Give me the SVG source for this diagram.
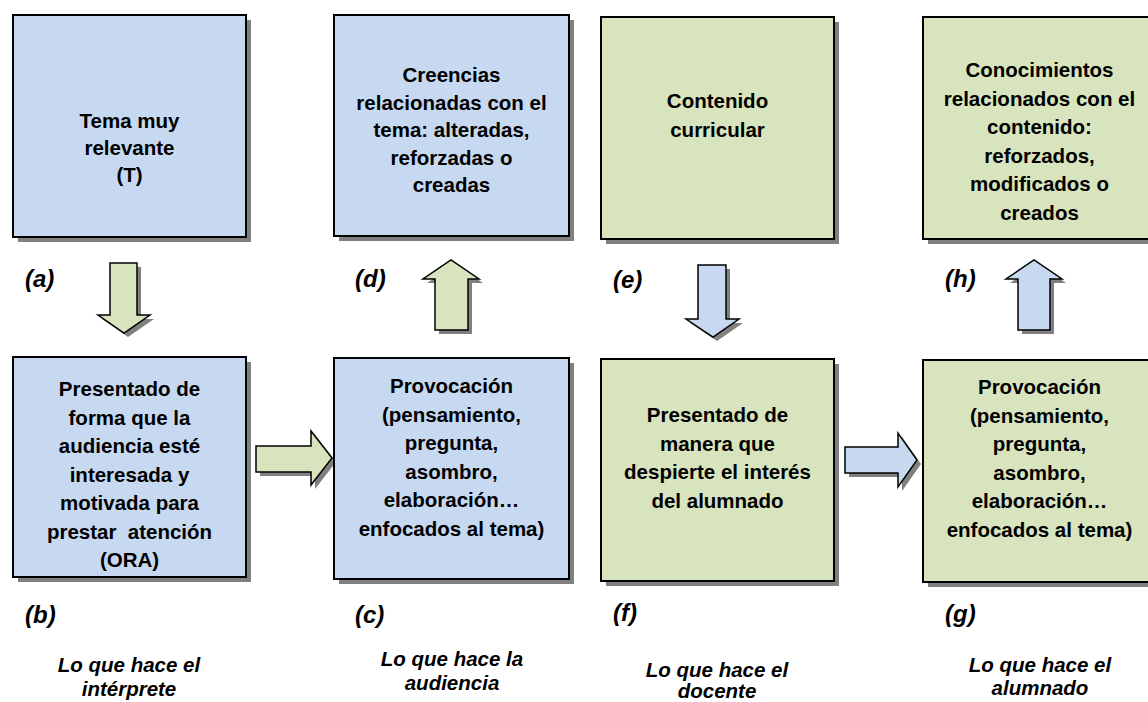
<svg xmlns="http://www.w3.org/2000/svg" width="1148" height="702" viewBox="0 0 1148 702">
<style>
.bg{fill:#ffffff}
.sh{fill:#808080;stroke:none}
.blue{fill:#C6D9F1;stroke:#000;stroke-width:2}
.green{fill:#D7E4BD;stroke:#000;stroke-width:2}
.ablue{fill:#C6D9F1;stroke:#000;stroke-width:1.5;stroke-linejoin:miter}
.agreen{fill:#D7E4BD;stroke:#000;stroke-width:1.5;stroke-linejoin:miter}
.t{font-family:"Liberation Sans",Arial,sans-serif;font-weight:bold;font-size:20.5px;text-anchor:middle;fill:#000}
.lbl{font-family:"Liberation Sans",Arial,sans-serif;font-weight:bold;font-style:italic;font-size:24px;fill:#000}
.cap{font-family:"Liberation Sans",Arial,sans-serif;font-weight:bold;font-style:italic;font-size:20.5px;text-anchor:middle;fill:#000}
</style>
<rect class="bg" x="0" y="0" width="1148" height="702"/>

<g id="connectors">
  <!-- a -> b down arrow (green) -->
  <path class="sh" transform="translate(4,4)" d="M110,263 H137 V315 H150 L124,333 L98,315 H110 Z"/>
  <path class="agreen" d="M110,263 H137 V315 H150 L124,333 L98,315 H110 Z"/>
  <!-- b -> c right arrow (green) -->
  <path class="sh" transform="translate(4,4)" d="M256,446 H311 V431 L332,458 L311,485 V472 H256 Z"/>
  <path class="agreen" d="M256,446 H311 V431 L332,458 L311,485 V472 H256 Z"/>
  <!-- c -> d up arrow (green) -->
  <path class="sh" transform="translate(4,4)" d="M435,330 V279 H423 L451,260 L479,279 H468 V330 Z"/>
  <path class="agreen" d="M435,330 V279 H423 L451,260 L479,279 H468 V330 Z"/>
  <!-- e -> f down arrow (blue) -->
  <path class="sh" transform="translate(4,4)" d="M698,265 H726 V319 H739 L713,337 L686,319 H698 Z"/>
  <path class="ablue" d="M698,265 H726 V319 H739 L713,337 L686,319 H698 Z"/>
  <!-- f -> g right arrow (blue) -->
  <path class="sh" transform="translate(4,4)" d="M845,447 H898 V433 L917,460 L898,487 V473 H845 Z"/>
  <path class="ablue" d="M845,447 H898 V433 L917,460 L898,487 V473 H845 Z"/>
  <!-- g -> h up arrow (blue) -->
  <path class="sh" transform="translate(4,4)" d="M1018,330 V279 H1006 L1034,260 L1062,279 H1050 V330 Z"/>
  <path class="ablue" d="M1018,330 V279 H1006 L1034,260 L1062,279 H1050 V330 Z"/>
</g>

<g id="node-a">
  <rect class="sh" x="18" y="20" width="233" height="222"/>
  <rect class="blue" x="13" y="15" width="233" height="222"/>
  <text class="t"><tspan x="129.5" y="128">Tema muy</tspan><tspan x="129.5" y="155">relevante</tspan><tspan x="129.5" y="182">(T)</tspan></text>
</g>

<g id="node-d">
  <rect class="sh" x="339" y="20" width="235" height="221"/>
  <rect class="blue" x="334" y="15" width="235" height="221"/>
  <text class="t"><tspan x="451.5" y="82">Creencias</tspan><tspan x="451.5" y="109.5">relacionadas con el</tspan><tspan x="451.5" y="137">tema: alteradas,</tspan><tspan x="451.5" y="164.5">reforzadas o</tspan><tspan x="451.5" y="192">creadas</tspan></text>
</g>

<g id="node-e">
  <rect class="sh" x="606" y="22" width="233" height="222"/>
  <rect class="green" x="601" y="17" width="233" height="222"/>
  <text class="t"><tspan x="717.5" y="108">Contenido</tspan><tspan x="717.5" y="136.5">curricular</tspan></text>
</g>

<g id="node-h">
  <rect class="sh" x="928" y="22" width="233" height="222"/>
  <rect class="green" x="923" y="17" width="233" height="222"/>
  <text class="t"><tspan x="1039.5" y="77">Conocimientos</tspan><tspan x="1039.5" y="105.5">relacionados con el</tspan><tspan x="1039.5" y="134">contenido:</tspan><tspan x="1039.5" y="162.5">reforzados,</tspan><tspan x="1039.5" y="191">modificados o</tspan><tspan x="1039.5" y="219.5">creados</tspan></text>
</g>

<g id="node-b">
  <rect class="sh" x="18" y="362" width="233" height="220"/>
  <rect class="blue" x="13" y="357" width="233" height="220"/>
  <text class="t" xml:space="preserve"><tspan x="129.5" y="396">Presentado de</tspan><tspan x="129.5" y="424.5">forma que la</tspan><tspan x="129.5" y="453">audiencia esté</tspan><tspan x="129.5" y="481.5">interesada y</tspan><tspan x="129.5" y="510">motivada para</tspan><tspan x="129.5" y="538.5" style="white-space:pre">prestar  atención</tspan><tspan x="129.5" y="567">(ORA)</tspan></text>
</g>

<g id="node-c">
  <rect class="sh" x="339" y="363" width="235" height="221"/>
  <rect class="blue" x="334" y="358" width="235" height="221"/>
  <text class="t"><tspan x="451.5" y="393">Provocación</tspan><tspan x="451.5" y="421.5">(pensamiento,</tspan><tspan x="451.5" y="450">pregunta,</tspan><tspan x="451.5" y="478.5">asombro,</tspan><tspan x="451.5" y="507">elaboración…</tspan><tspan x="451.5" y="535.5">enfocados al tema)</tspan></text>
</g>

<g id="node-f">
  <rect class="sh" x="606" y="364" width="233" height="222"/>
  <rect class="green" x="601" y="359" width="233" height="222"/>
  <text class="t"><tspan x="717.5" y="422">Presentado de</tspan><tspan x="717.5" y="450.5">manera que</tspan><tspan x="717.5" y="479">despierte el interés</tspan><tspan x="717.5" y="507.5">del alumnado</tspan></text>
</g>

<g id="node-g">
  <rect class="sh" x="928" y="365" width="233" height="222"/>
  <rect class="green" x="923" y="360" width="233" height="222"/>
  <text class="t"><tspan x="1039.5" y="394">Provocación</tspan><tspan x="1039.5" y="422.5">(pensamiento,</tspan><tspan x="1039.5" y="451">pregunta,</tspan><tspan x="1039.5" y="479.5">asombro,</tspan><tspan x="1039.5" y="508">elaboración…</tspan><tspan x="1039.5" y="536.5">enfocados al tema)</tspan></text>
</g>

<g id="labels">
  <text class="lbl" x="25" y="287">(a)</text>
  <text class="lbl" x="355" y="287">(d)</text>
  <text class="lbl" x="613" y="288">(e)</text>
  <text class="lbl" x="945" y="287">(h)</text>
  <text class="lbl" x="25" y="623">(b)</text>
  <text class="lbl" x="355" y="623">(c)</text>
  <text class="lbl" x="613" y="621">(f)</text>
  <text class="lbl" x="945" y="622">(g)</text>
</g>

<g id="captions">
  <text class="cap"><tspan x="129" y="672">Lo que hace el</tspan><tspan x="129" y="696">intérprete</tspan></text>
  <text class="cap"><tspan x="452" y="666">Lo que hace la</tspan><tspan x="452" y="690">audiencia</tspan></text>
  <text class="cap"><tspan x="717" y="677">Lo que hace el</tspan><tspan x="717" y="698">docente</tspan></text>
  <text class="cap"><tspan x="1040" y="672">Lo que hace el</tspan><tspan x="1040" y="695">alumnado</tspan></text>
</g>
</svg>
